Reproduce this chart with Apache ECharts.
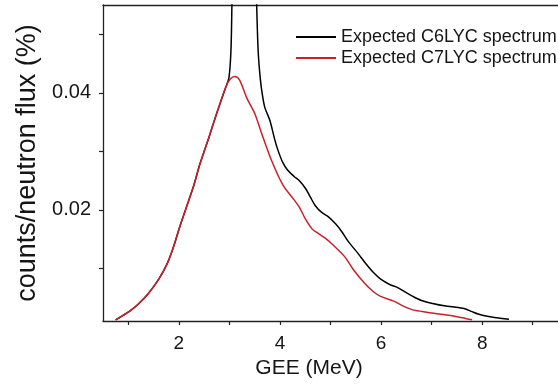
<!DOCTYPE html>
<html>
<head>
<meta charset="utf-8">
<script src="https://cdn.jsdelivr.net/npm/echarts@6/dist/echarts.min.js"></script>
<style>
html,body{margin:0;padding:0;background:#fff;}
#chart{width:558px;height:385px;}
</style>
</head>
<body>
<div id="chart"></div>
<script>
// ---- data ----
var seriesNames = ['Expected C6LYC spectrum', 'Expected C7LYC spectrum'];

var c6X = [0.75, 1.03, 1.2, 1.39, 1.6, 1.77, 1.9, 2.0, 2.14, 2.3, 2.42, 2.6, 2.75, 2.93, 2.99, 3.03, 3.05, 3.09, 3.15, 3.28, 3.41, 3.49, 3.54, 3.57, 3.61, 3.65, 3.70, 3.80, 3.90, 3.96, 4.05, 4.15, 4.28, 4.38, 4.51, 4.60, 4.70, 4.82, 4.96, 5.10, 5.22, 5.35, 5.54, 5.70, 5.86, 6.0, 6.18, 6.31, 6.45, 6.63, 6.8, 7.02, 7.25, 7.53, 7.66, 7.8, 7.92, 8.1, 8.24, 8.53];
var c6Y = [0.0012, 0.0027, 0.0039, 0.0056, 0.0081, 0.0108, 0.0138, 0.0166, 0.0202, 0.0243, 0.0279, 0.0325, 0.0365, 0.0410, 0.0425, 0.047, 0.055, 0.075, 0.10, 0.12, 0.10, 0.075, 0.055, 0.047, 0.0425, 0.0398, 0.0375, 0.0353, 0.0319, 0.0302, 0.0282, 0.0268, 0.0257, 0.0250, 0.0236, 0.0222, 0.0207, 0.0196, 0.0188, 0.0176, 0.0163, 0.0146, 0.0126, 0.0108, 0.0092, 0.0081, 0.0072, 0.0068, 0.0061, 0.0052, 0.0045, 0.0040, 0.0036, 0.0033, 0.0031, 0.0026, 0.0022, 0.0018, 0.0016, 0.0013];

var c7X = [0.75, 1.03, 1.2, 1.39, 1.6, 1.77, 1.9, 2.0, 2.14, 2.3, 2.42, 2.6, 2.75, 2.93, 3.02, 3.11, 3.2, 3.35, 3.5, 3.64, 3.83, 4.06, 4.28, 4.38, 4.5, 4.64, 4.75, 4.89, 5.05, 5.28, 5.45, 5.67, 5.85, 5.99, 6.25, 6.45, 6.63, 6.9, 7.15, 7.53, 7.8];
var c7Y = [0.0012, 0.0027, 0.0039, 0.0056, 0.0081, 0.0108, 0.0138, 0.0166, 0.0202, 0.0243, 0.0279, 0.0325, 0.0365, 0.0410, 0.0424, 0.0428, 0.0422, 0.0390, 0.0365, 0.0330, 0.0285, 0.0242, 0.0217, 0.0205, 0.0185, 0.0167, 0.0160, 0.0152, 0.0140, 0.0120, 0.0098, 0.0075, 0.0060, 0.0052, 0.0044, 0.0035, 0.0029, 0.0025, 0.0022, 0.0017, 0.0012];

var xTicks = [1, 2, 3, 4, 5, 6, 7, 8, 9];
var xLabels = [2, 4, 6, 8];
var yTicks = [0.01, 0.02, 0.03, 0.04, 0.05];
var yLabels = [0.02, 0.04];

function zip(xs, ys) { return xs.map(function (x, i) { return [x, ys[i]]; }); }

var FONT = "'Liberation Sans', Arial, sans-serif";
var TXT = '#151515';
var AX = '#222';
var RED = '#c8212b';

var chart = echarts.init(document.getElementById('chart'), null, { renderer: 'canvas' });
chart.setOption({
  animation: false,
  backgroundColor: '#fff',
  grid: { left: 103, top: 5, width: 466, height: 316, containLabel: false },
  legend: {
    orient: 'vertical',
    left: 290,
    top: 23,
    itemWidth: 40,
    itemHeight: 14,
    itemGap: 3,
    selectedMode: false,
    itemStyle: { opacity: 0, borderWidth: 0 },
    textStyle: { fontFamily: FONT, fontSize: 18, color: TXT },
    data: seriesNames
  },
  xAxis: [{
    type: 'value',
    min: 0.5,
    max: 9.5,
    position: 'bottom',
    name: 'GEE (MeV)',
    nameLocation: 'middle',
    nameGap: 37,
    nameTextStyle: { fontFamily: FONT, fontSize: 21, color: TXT, padding: [0, 43, 0, 0] },
    splitLine: { show: false },
    axisLine: { show: true, onZero: false, lineStyle: { color: AX, width: 1.3 } },
    axisTick: { show: true, inside: false, length: 4, customValues: xTicks, lineStyle: { color: AX, width: 1.2 } },
    axisLabel: { show: true, margin: 13, customValues: xLabels, fontFamily: FONT, fontSize: 19, color: TXT }
  }, {
    type: 'value',
    min: 0.5,
    max: 9.5,
    position: 'top',
    splitLine: { show: false },
    axisLine: { show: true, onZero: false, lineStyle: { color: AX, width: 1.3 } },
    axisTick: { show: false },
    axisLabel: { show: false }
  }],
  yAxis: {
    type: 'value',
    min: 0.001,
    max: 0.055,
    name: 'counts/neutron flux (%)',
    nameLocation: 'middle',
    nameGap: 62,
    nameTextStyle: { fontFamily: FONT, fontSize: 27, color: TXT },
    splitLine: { show: false },
    axisLine: { show: true, onZero: false, lineStyle: { color: AX, width: 1.3 } },
    axisTick: { show: true, inside: false, length: 4, customValues: yTicks, lineStyle: { color: AX, width: 1.2 } },
    axisLabel: { show: true, margin: 12, customValues: yLabels, fontFamily: FONT, fontSize: 20, color: TXT,
      formatter: function (v) { return v.toFixed(2); } }
  },
  series: [{
    name: seriesNames[0],
    type: 'line',
    xAxisIndex: 0,
    data: zip(c6X, c6Y),
    symbol: 'none',
    smooth: 0.3,
    clip: true,
    lineStyle: { color: '#000', width: 1.5 },
    itemStyle: { color: '#000' },
    z: 2
  }, {
    name: seriesNames[1],
    type: 'line',
    xAxisIndex: 0,
    data: zip(c7X, c7Y),
    symbol: 'none',
    smooth: 0.3,
    clip: true,
    lineStyle: { color: RED, width: 1.5 },
    itemStyle: { color: RED },
    z: 3
  }]
});
</script>
</body>
</html>
